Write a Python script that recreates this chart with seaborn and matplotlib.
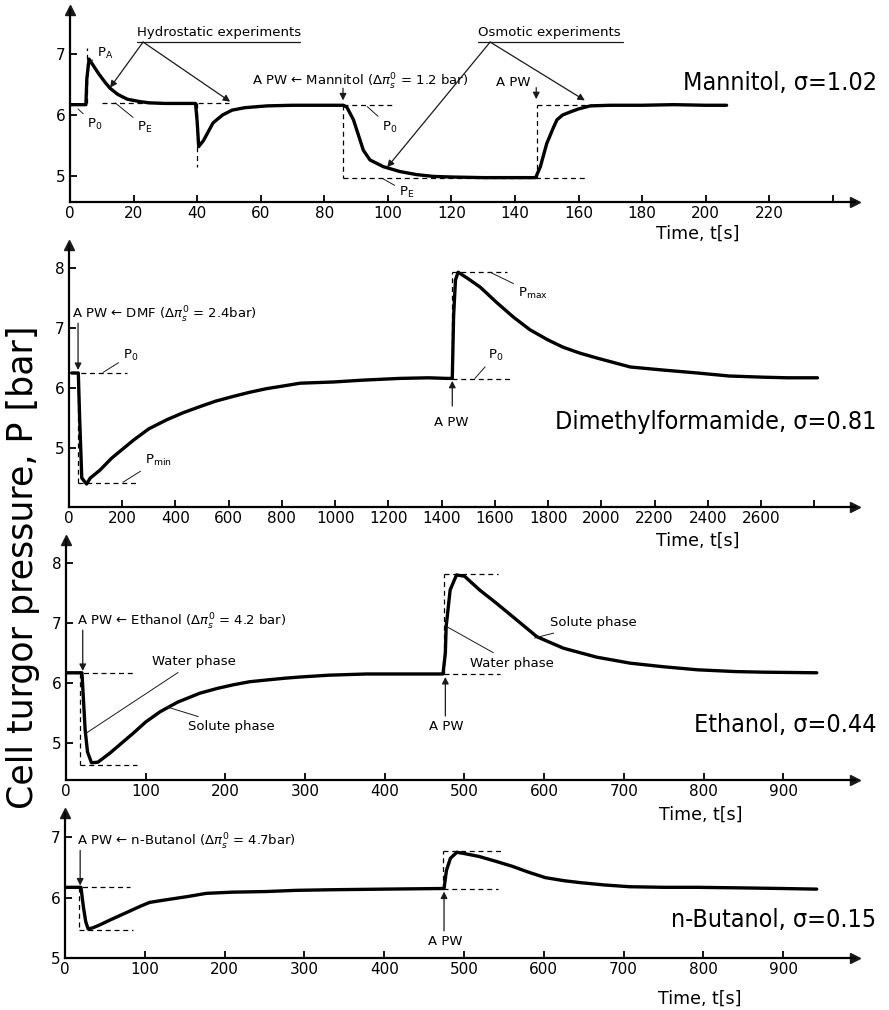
import matplotlib
matplotlib.use("Agg")
import matplotlib.pyplot as plt
import seaborn as sns

# ---------------- data ----------------
mannitol_t = [0, 5.0, 5.3, 6.0, 7.5, 9, 11, 12.6, 15, 18, 22, 25, 30, 39.5, 40.0, 40.5, 42, 45, 48, 51,
              55, 62, 70, 80, 86, 87.1, 89.2, 92.3, 94.4, 98.6, 103.8, 109, 114.3, 120, 130, 140, 146.5,
              148, 150, 152, 153.2, 155, 157.4, 160, 163.7, 170, 180, 190, 200, 206.6]
mannitol_p = [6.17, 6.17, 6.6, 6.92, 6.8, 6.68, 6.54, 6.44, 6.34, 6.26, 6.22, 6.2, 6.19, 6.19, 5.9, 5.48,
              5.58, 5.87, 6.0, 6.08, 6.12, 6.15, 6.16, 6.16, 6.16, 6.13, 5.92, 5.42, 5.26, 5.15, 5.07, 5.02,
              4.99, 4.98, 4.97, 4.97, 4.97, 5.15, 5.53, 5.78, 5.92, 6.0, 6.05, 6.1, 6.15, 6.16, 6.16, 6.17,
              6.16, 6.16]

dmf_t = [10, 35, 40, 48, 66, 80, 116, 160, 242, 300, 367, 430, 492, 550, 617, 680, 743, 800, 868, 930,
         993, 1100, 1243, 1350, 1420, 1440, 1445, 1452, 1462, 1500, 1545, 1608, 1670, 1732, 1800, 1856,
         1920, 1983, 2050, 2109, 2230, 2361, 2480, 2609, 2700, 2812]
dmf_p = [6.25, 6.25, 5.5, 4.5, 4.4, 4.5, 4.63, 4.83, 5.13, 5.32, 5.47, 5.59, 5.69, 5.78, 5.86, 5.93, 5.99,
         6.03, 6.08, 6.09, 6.1, 6.13, 6.16, 6.17, 6.16, 6.16, 7.2, 7.8, 7.93, 7.82, 7.68, 7.42, 7.18, 6.97,
         6.8, 6.68, 6.58, 6.5, 6.42, 6.35, 6.3, 6.25, 6.2, 6.18, 6.17, 6.17]

ethanol_t = [0, 20, 22, 24, 27, 32, 40, 55, 70, 85, 100, 118, 140, 168, 190, 210, 230, 252, 275, 294, 330,
             377, 420, 473, 476, 477, 482, 490, 500, 519, 540, 561, 591, 624, 666, 708, 750, 792, 840, 875, 942]
ethanol_p = [6.17, 6.17, 5.7, 5.22, 4.85, 4.67, 4.68, 4.83, 5.0, 5.17, 5.35, 5.52, 5.68, 5.83, 5.91, 5.97,
             6.02, 6.05, 6.08, 6.1, 6.13, 6.15, 6.15, 6.15, 6.5, 6.94, 7.55, 7.8, 7.78, 7.55, 7.33, 7.1, 6.77,
             6.58, 6.43, 6.33, 6.27, 6.22, 6.19, 6.18, 6.17]

butanol_t = [0, 20, 23, 26, 29, 35, 44, 55, 65, 75, 85, 95, 106, 120, 135, 155, 177, 210, 252, 290, 335,
             400, 472, 475, 478, 483, 491, 500, 519, 540, 560, 581, 602, 625, 644, 675, 707, 750, 791, 850,
             900, 942]
butanol_p = [6.17, 6.17, 5.85, 5.6, 5.48, 5.5, 5.55, 5.62, 5.68, 5.74, 5.8, 5.86, 5.92, 5.95, 5.98, 6.02,
             6.07, 6.09, 6.1, 6.12, 6.13, 6.14, 6.15, 6.15, 6.45, 6.65, 6.75, 6.73, 6.68, 6.6, 6.52, 6.42,
             6.33, 6.28, 6.25, 6.21, 6.18, 6.17, 6.17, 6.16, 6.15, 6.14]

# dashed reference segments: (t0, t1), (p0, p1)
mannitol_ref_t = [(5.3, 5.3), (10, 50), (40, 40), (86, 101.6), (86, 86), (86, 162), (147, 147), (147, 166)]
mannitol_ref_p = [(6.2, 7.1), (6.2, 6.2), (6.2, 5.15), (6.16, 6.16), (6.16, 4.97), (4.97, 4.97), (4.97, 6.16), (6.16, 6.16)]
dmf_ref_t = [(10, 218), (34, 34), (34, 255), (1440, 1440), (1440, 1646), (1440, 1658)]
dmf_ref_p = [(6.25, 6.25), (6.25, 4.42), (4.42, 4.42), (6.15, 7.93), (7.93, 7.93), (6.15, 6.15)]
ethanol_ref_t = [(0, 84), (18, 18), (18, 89), (474, 474), (474, 542), (474, 545)]
ethanol_ref_p = [(6.17, 6.17), (6.17, 4.64), (4.64, 4.64), (6.15, 7.82), (7.82, 7.82), (6.15, 6.15)]
butanol_ref_t = [(0, 81), (18, 18), (18, 85), (474, 474), (474, 548), (474, 542)]
butanol_ref_p = [(6.17, 6.17), (6.17, 5.47), (5.47, 5.47), (6.15, 6.77), (6.77, 6.77), (6.15, 6.15)]

mannitol_xticks = list(range(0, 241, 20))
mannitol_xlabels = [str(v) for v in range(0, 221, 20)] + [""]
dmf_xticks = list(range(0, 2801, 200))
dmf_xlabels = [str(v) for v in range(0, 2601, 200)] + [""]
alc_xticks = list(range(0, 901, 100))
alc_xlabels = [str(v) for v in alc_xticks]

titles = ["Mannitol, σ=1.02", "Dimethylformamide, σ=0.81", "Ethanol, σ=0.44", "n-Butanol, σ=0.15"]

# ---------------- styling ----------------
sns.set_theme(style="ticks")
plt.rcParams['font.family'] = ['DejaVu Sans']
plt.rcParams['mathtext.fontset'] = 'dejavusans'
plt.rcParams['text.color'] = 'black'
plt.rcParams['axes.labelcolor'] = 'black'
plt.rcParams['xtick.color'] = 'black'
plt.rcParams['ytick.color'] = 'black'

W, H = 889, 1010
fig = plt.figure(figsize=(W / 100, H / 100), dpi=100)


def add_panel(left, right, bottom, top):
    return fig.add_axes([left / W, 1 - bottom / H, (right - left) / W, (bottom - top) / H])


def style(ax, xlim, ylim, xticks, xlabels, yticks, xl_pos):
    ax.set_xlim(*xlim)
    ax.set_ylim(*ylim)
    ax.set_xticks(xticks)
    ax.set_xticklabels(xlabels)
    ax.set_yticks(yticks)
    sns.despine(ax=ax)
    for s in ['left', 'bottom']:
        ax.spines[s].set_linewidth(1.6)
        ax.spines[s].set_color('black')
    ax.tick_params(direction='in', length=5, width=1.3, labelsize=11, pad=3, colors='black')
    ax.plot(1, 0, '>', color='k', transform=ax.transAxes, clip_on=False, ms=7)
    ax.plot(0, 1, '^', color='k', transform=ax.transAxes, clip_on=False, ms=7)
    ax.set_xlabel("Time, t[s]", fontsize=12.5)
    ax.xaxis.set_label_coords(xl_pos[0], xl_pos[1])
    ax.set_ylabel("")
    ax.patch.set_alpha(0)


def draw(ax, t, p, ref_t, ref_p):
    sns.lineplot(x=t, y=p, ax=ax, color='black', linewidth=2.4, sort=False, estimator=None)
    for st, sp in zip(ref_t, ref_p):
        ax.plot(st, sp, color='black', lw=0.9, ls=(0, (4, 3)))


small = 9.5
big = 18
bigkw = dict(fontsize=big, va='center', ha='right', fontstretch='condensed')
arr = dict(arrowstyle='-|>', lw=0.9, color='k', mutation_scale=10, shrinkA=0, shrinkB=0)
lead = dict(arrowstyle='-', lw=0.7, color='k', shrinkA=1, shrinkB=0)

# ---- panel 1: Mannitol
ax1 = add_panel(70, 855, 202, 10)
draw(ax1, mannitol_t, mannitol_p, mannitol_ref_t, mannitol_ref_p)
style(ax1, (0, 247), (4.569, 7.727), mannitol_xticks, mannitol_xlabels, [5, 6, 7], (0.80, -0.12))
ax1.text(21, 7.35, "Hydrostatic experiments", fontsize=small, va='center', ha='left')
ax1.plot([21, 72.4], [7.2, 7.2], color='k', lw=0.9)
ax1.annotate("", xy=(12.6, 6.45), xytext=(23, 7.2), arrowprops=arr)
ax1.annotate("", xy=(50.4, 6.22), xytext=(23, 7.2), arrowprops=arr)
ax1.annotate(r"P$_\mathrm{A}$", xy=(6.3, 6.88), xytext=(8.6, 7.02), fontsize=small, va='center', arrowprops=lead)
ax1.annotate(r"P$_0$", xy=(2.5, 6.1), xytext=(5.5, 5.84), fontsize=small, va='center', arrowprops=lead)
ax1.annotate(r"P$_\mathrm{E}$", xy=(14.2, 6.2), xytext=(21.2, 5.80), fontsize=small, va='center', arrowprops=lead)
ax1.text(57.3, 6.54, r"A PW ← Mannitol ($\Delta\pi_s^0$ = 1.2 bar)", fontsize=small, va='center')
ax1.annotate("", xy=(85.9, 6.24), xytext=(85.9, 6.44), arrowprops=arr)
ax1.annotate(r"P$_0$", xy=(93.5, 6.14), xytext=(98.3, 5.80), fontsize=small, va='center', arrowprops=lead)
ax1.annotate(r"P$_\mathrm{E}$", xy=(98.5, 4.95), xytext=(103.6, 4.73), fontsize=small, va='center', arrowprops=lead)
ax1.text(128.4, 7.35, "Osmotic experiments", fontsize=small, va='center', ha='left')
ax1.plot([128.4, 174], [7.2, 7.2], color='k', lw=0.9)
ax1.annotate("", xy=(99.8, 5.14), xytext=(132.2, 7.2), arrowprops=arr)
ax1.annotate("", xy=(162, 6.24), xytext=(132.2, 7.2), arrowprops=arr)
ax1.text(134, 6.53, "A PW", fontsize=small, va='center')
ax1.annotate("", xy=(146.7, 6.26), xytext=(146.7, 6.45), arrowprops=arr)
ax1.text(254, 6.53, titles[0], **bigkw)

# ---- panel 2: DMF
ax2 = add_panel(69, 855, 507, 245)
draw(ax2, dmf_t, dmf_p, dmf_ref_t, dmf_ref_p)
style(ax2, (0, 2953), (4.017, 8.383), dmf_xticks, dmf_xlabels, [5, 6, 7, 8], (0.80, -0.095))
ax2.text(11, 7.22, r"A PW ← DMF ($\Delta\pi_s^0$ = 2.4bar)", fontsize=small, va='center')
ax2.annotate("", xy=(34, 6.3), xytext=(34, 7.08), arrowprops=arr)
ax2.annotate(r"P$_0$", xy=(128, 6.26), xytext=(203, 6.55), fontsize=small, va='center', arrowprops=lead)
ax2.annotate(r"P$_\mathrm{min}$", xy=(203, 4.43), xytext=(285, 4.8), fontsize=small, va='center', arrowprops=lead)
ax2.annotate(r"P$_\mathrm{max}$", xy=(1582, 7.93), xytext=(1687, 7.58), fontsize=small, va='center', arrowprops=lead)
ax2.annotate(r"P$_0$", xy=(1525, 6.16), xytext=(1574, 6.55), fontsize=small, va='center', arrowprops=lead)
ax2.text(1435, 5.42, "A PW", fontsize=small, va='center', ha='center')
ax2.annotate("", xy=(1440, 6.12), xytext=(1440, 5.7), arrowprops=arr)
ax2.text(3035, 5.43, titles[1], **bigkw)

# ---- panel 3: Ethanol
ax3 = add_panel(66, 855, 780, 540)
draw(ax3, ethanol_t, ethanol_p, ethanol_ref_t, ethanol_ref_p)
style(ax3, (0, 990), (4.383, 8.383), alc_xticks, alc_xlabels, [5, 6, 7, 8], (0.804, -0.108))
ax3.text(14, 7.02, r"A PW ← Ethanol ($\Delta\pi_s^0$ = 4.2 bar)", fontsize=small, va='center')
ax3.annotate("", xy=(21, 6.2), xytext=(21, 6.88), arrowprops=arr)
ax3.annotate("Water phase", xy=(26, 5.17), xytext=(108, 6.35), fontsize=small, va='center', arrowprops=lead)
ax3.annotate("Solute phase", xy=(127, 5.6), xytext=(153, 5.27), fontsize=small, va='center', arrowprops=lead)
ax3.text(477, 5.27, "A PW", fontsize=small, va='center', ha='center')
ax3.annotate("", xy=(476, 6.1), xytext=(476, 5.45), arrowprops=arr)
ax3.annotate("Solute phase", xy=(588, 6.75), xytext=(607, 7.0), fontsize=small, va='center', arrowprops=lead)
ax3.annotate("Water phase", xy=(479, 6.93), xytext=(507, 6.33), fontsize=small, va='center', arrowprops=lead)
ax3.text(1017, 5.3, titles[2], **bigkw)

# ---- panel 4: n-Butanol
ax4 = add_panel(65, 855, 958, 813)
draw(ax4, butanol_t, butanol_p, butanol_ref_t, butanol_ref_p)
style(ax4, (0, 990), (5.0, 7.4), alc_xticks, alc_xlabels, [5, 6, 7], (0.804, -0.22))
ax4.text(15, 6.92, r"A PW ← n-Butanol ($\Delta\pi_s^0$ = 4.7bar)", fontsize=small, va='center')
ax4.annotate("", xy=(19, 6.2), xytext=(19, 6.78), arrowprops=arr)
ax4.text(477, 5.27, "A PW", fontsize=small, va='center', ha='center')
ax4.annotate("", xy=(475, 6.1), xytext=(475, 5.45), arrowprops=arr)
ax4.text(1017, 5.63, titles[3], **bigkw)

fig.text(23 / W, 1 - 567 / H, "Cell turgor pressure, P [bar]", rotation=90, fontsize=25,
         va='center', ha='center')

fig.savefig("out.png", dpi=100, facecolor='white')
